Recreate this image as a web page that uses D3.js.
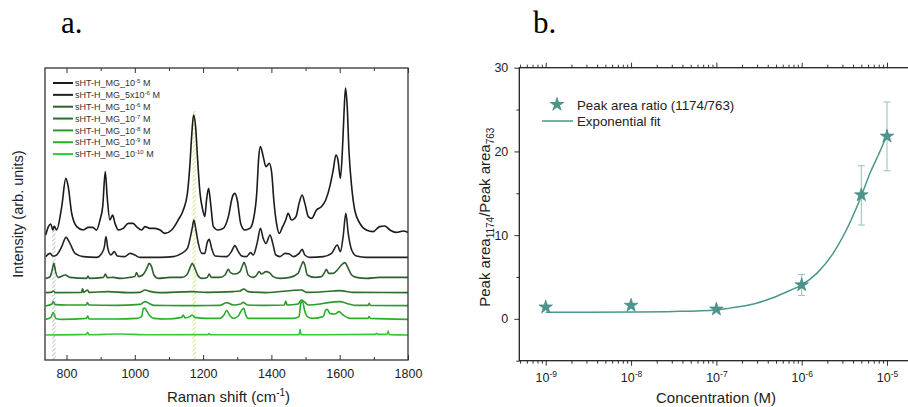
<!DOCTYPE html>
<html>
<head>
<meta charset="utf-8">
<script src="https://cdn.jsdelivr.net/npm/d3@7"></script>
<style>
  body { margin: 0; background: #fff; }
  svg { display: block; font-family: "Liberation Sans", Arial, sans-serif; }
</style>
</head>
<body>
<svg width="908" height="407"></svg>
<script>
// ---------- panel a : SERS spectra (x = Raman shift, y = arb. intensity incl. stacking offset)
const spec1 = [[739,62.5],[747,66.7],[754,68],[760,65],[764,67],[771,65],[786,76.7],[798,90.8],[805,86.7],[815,73.5],[830,66.7],[849,65],[864,66.3],[877,66.3],[888,65],[898,70],[906,76.7],[913.5,94.2],[919,81.7],[927,70],[935,72.5],[942,68.3],[952,65],[966,65.8],[981,68.3],[995,68.3],[1005,66.7],[1020,65],[1030,66.7],[1044,65.8],[1059,65.8],[1074,65],[1088,63.3],[1108,65],[1127,70],[1142,75],[1154,83.3],[1161,96.7],[1167,113.3],[1172,122.5],[1178,116.7],[1184,100],[1191,83.3],[1199,75],[1205,71.7],[1210,80],[1216,85.8],[1222,78.3],[1230,66.7],[1244,65],[1259,65.8],[1274,71.7],[1286,81.7],[1293,83.3],[1300,80],[1310,68.3],[1322,65],[1337,65.8],[1347,70],[1357,83.3],[1363,101.7],[1368,106.7],[1376,101.7],[1384,96.7],[1394,98.3],[1401,93.3],[1407,80],[1415,68.3],[1423,63.3],[1433,66.7],[1442,70],[1449,73.3],[1459,70],[1472,71.7],[1481,78.3],[1490,82.5],[1498,78.3],[1508,71.7],[1518,70.8],[1532,75],[1547,76.7],[1559,80],[1571,86.7],[1581,95],[1589,102.5],[1595,100],[1602,90.8],[1608,105],[1613,125],[1617,136],[1622,126.7],[1627,105],[1635,86.7],[1644,75],[1659,68.3],[1678,65],[1698,64.2],[1717,66.7],[1732,67],[1747,65],[1766,63.8],[1786,64.5],[1800,63.8]];
const spec2 = [[739,51.7],[752,53.3],[760,52],[769,52.3],[786,56.7],[798.5,61.3],[810,58.3],[825,53.3],[849,51.7],[888,51.3],[903,53.3],[911,56.7],[915.5,61.7],[921,55.8],[930,52.5],[940,54.2],[949,52],[971,51.7],[986,53.3],[1000,52.5],[1015,51.3],[1074,51.3],[1113,51.7],[1137,53.3],[1154,55.8],[1163,61.7],[1169,66.7],[1173,70],[1179,65],[1186,58.3],[1196,53.3],[1205,53.3],[1212,58.7],[1218,60.3],[1225,55.8],[1235,52],[1269,51.7],[1283,54.2],[1293,57.2],[1303,54.2],[1313,52],[1327,51.7],[1339,53.7],[1347,52.5],[1358,58.3],[1368,65.8],[1376,60.8],[1384,58.3],[1396,62.5],[1404,58.3],[1413,52.5],[1425,51.7],[1440,53.3],[1452,53],[1464,51.7],[1481,53.3],[1490,55.3],[1498,52.5],[1513,51.3],[1552,51.7],[1576,53.3],[1593,57.5],[1602,54.2],[1610,61.7],[1618,73.3],[1625,63.3],[1635,55],[1649,52],[1678,51.3],[1800,51.3]];
const spec3 = [[739,40.8],[752,41.7],[758,45],[763,48.3],[768,44.2],[776,41.3],[796,42.5],[810,41.3],[859,40.8],[863,42],[867,40.8],[908,41.3],[914,43],[919,41.2],[937,41.3],[957,40.8],[986,41.3],[1000,41.7],[1005,43.7],[1011,41.7],[1023,42.5],[1035,45.8],[1042,48.3],[1049,46.7],[1056,42.5],[1069,40.8],[1103,41.3],[1137,41.3],[1152,42.5],[1161,45.8],[1168,48.3],[1176,45.8],[1184,42.5],[1196,40.8],[1212,41.3],[1218,43],[1224,41.3],[1249,41.3],[1264,42.5],[1274,45.3],[1280,43.7],[1293,43],[1308,44.2],[1316,47.5],[1320,48.8],[1325,46.7],[1332,42.5],[1347,41.3],[1357,42.5],[1364,44.2],[1371,43],[1384,44.2],[1394,43.7],[1405,41.7],[1425,40.8],[1454,41.3],[1478,43.3],[1488,47.5],[1493,49.2],[1498,47.5],[1505,42.5],[1527,41.3],[1547,41.7],[1557,44.2],[1561,45.3],[1568,43.3],[1581,43.3],[1593,45],[1605,47.5],[1615,48.7],[1625,45.8],[1635,42.5],[1649,41.3],[1678,40.8],[1717,41.3],[1800,41.3]];
const spec4 = [[739,33.7],[755,33.8],[761,34.5],[767,33.7],[844,33.8],[847,35.7],[850,33.8],[862,35],[866,33.8],[922,34.2],[978,33.7],[1015,33.8],[1030,35],[1044,34.3],[1074,33.7],[1166,34.2],[1210,33.8],[1288,34.2],[1308,34.5],[1319,35.5],[1332,34.2],[1384,33.7],[1488,35],[1503,33.8],[1581,34.5],[1600,34.7],[1640,33.8],[1800,33.7]];
const spec5 = [[739,27],[757,28],[761,29.2],[767,27.7],[800,27.5],[858,27.5],[861,28.7],[866,27.5],[945,27.3],[1015,27.8],[1030,29.2],[1042,28.3],[1056,27.3],[1137,27.2],[1186,27.2],[1249,27.3],[1269,28.7],[1288,27.5],[1310,28],[1317,28.8],[1330,27.5],[1384,27.3],[1438,27.5],[1442,29.5],[1446,27.5],[1478,28],[1488,30],[1496,29.2],[1508,27.5],[1542,28],[1566,28.7],[1600,29.2],[1627,28],[1647,27.3],[1683,27.3],[1686,28.3],[1690,27.3],[1800,27.2]];
const spec6 = [[739,20.3],[754,21.3],[761,23.7],[769,20.8],[786,20.3],[858,20.8],[862,22],[866,20.5],[945,20.5],[1005,20.8],[1020,21.7],[1025,25.8],[1030,25.8],[1036,24.2],[1042,22.5],[1056,20.8],[1093,20.5],[1137,21.3],[1142,22.5],[1147,21],[1161,21.7],[1168,22.5],[1176,21.3],[1210,20.8],[1249,20.8],[1261,22.5],[1269,24.7],[1279,22],[1288,20.8],[1303,22],[1313,25],[1319,25.8],[1325,22.5],[1332,20.8],[1384,20.8],[1464,20.8],[1481,21.7],[1486,28.3],[1491,29.2],[1498,24.2],[1505,21.7],[1522,20.8],[1552,21.7],[1559,25],[1564,25.3],[1571,23.3],[1586,23],[1598,24.2],[1610,22.5],[1630,20.8],[1683,20.8],[1686,21.7],[1690,20.8],[1800,20.3]];
const spec7 = [[739,12.5],[858,12.8],[862,13.8],[866,12.6],[950,13],[1044,12.6],[1214,12.7],[1218,13.2],[1222,12.6],[1384,12.6],[1481,12.6],[1484,15.3],[1487,12.6],[1704,12.8],[1708,13.3],[1712,12.8],[1739,12.8],[1742,14.5],[1745,12.7],[1800,12.5]];
const spectra = [spec1, spec2, spec3, spec4, spec5, spec6, spec7];
const specColors = ["#1b1b1b", "#232323", "#2f5e2f", "#2a6e2a", "#2f9a2f", "#27b027", "#36c936"];
const concLabels = [["10", "-5"], ["5x10", "-6"], ["10", "-6"], ["10", "-7"], ["10", "-8"], ["10", "-9"], ["10", "-10"]];
const ramanTicks = [800, 1000, 1200, 1400, 1600, 1800];
const ramanMinor = [900, 1100, 1300, 1500, 1700];
const markedBands = [763, 1174];

// ---------- panel b : peak area ratio vs concentration
const concExp = [-9, -8, -7, -6, Math.log10(5e-6), -5];
const ratio = [1.4, 1.6, 1.15, 4.05, 14.8, 21.8];
const ratioLow = [1.2, 1.4, 1.0, 2.8, 11.2, 17.7];
const ratioHigh = [1.6, 1.8, 1.3, 5.3, 18.3, 25.9];
const fitExp = [-9, -8.5, -8, -7.5, -7, -6.86, -6.72, -6.53, -6.33, -6.14, -6, -5.82, -5.63, -5.43, -5.3, -5.2, -5.1, -5];
const fitY = [0.8, 0.8, 0.82, 0.88, 1.07, 1.25, 1.47, 1.87, 2.55, 3.38, 4.06, 5.46, 7.85, 11.6, 14.7, 17.4, 19.6, 22.0];
const ratioTicks = [0, 10, 20, 30];
const ratioMinor = [-5, 5, 15, 25];
const decadeTicks = [-9, -8, -7, -6, -5];

const svg = d3.select("svg");
const teal = "#4a968a";

// ================= panel a
const ax = { l: 45, r: 408, t: 68, b: 360 };
const xa = d3.scaleLinear().domain([737, 1800]).range([ax.l, ax.r]);
const ya = d3.scaleLinear().domain([0, 146]).range([ax.b, ax.t]);

svg.append("text").attr("x", 61).attr("y", 33)
  .style("font-family", "'Liberation Serif', serif").style("font-size", "31px").text("a.");

svg.append("clipPath").attr("id", "clipA").append("rect")
  .attr("x", ax.l).attr("y", ax.t).attr("width", ax.r - ax.l).attr("height", ax.b - ax.t);

const defs = svg.append("defs");
function hatch(id, color) {
  const p = defs.append("pattern").attr("id", id).attr("patternUnits", "userSpaceOnUse")
    .attr("width", 3).attr("height", 3).attr("patternTransform", "rotate(45)");
  p.append("line").attr("x1", 0).attr("y1", 0).attr("x2", 0).attr("y2", 3)
    .attr("stroke", color).attr("stroke-width", 1.6);
}
hatch("hatchGrey", "#b5b5b5");
hatch("hatchYellow", "#c9e36a");

const gA = svg.append("g").attr("clip-path", "url(#clipA)");

// hatched bands: from the top spectrum at the band position down to the bottom
const bandFill = ["url(#hatchGrey)", "url(#hatchYellow)"];
const bandTopPad = [-1, 2];
markedBands.forEach(function (c, i) {
  const near = spec1.filter(p => Math.abs(p[0] - c) < 6);
  const top = d3.max(near, p => p[1]) + bandTopPad[i];
  gA.append("rect")
    .attr("x", xa(c - 5))
    .attr("y", ya(top))
    .attr("width", xa(c + 5) - xa(c - 5))
    .attr("height", ya(0) - ya(top))
    .attr("fill", bandFill[i]);
});

const lineA = d3.line().x(d => xa(d[0])).y(d => ya(d[1])).curve(d3.curveMonotoneX);
gA.selectAll("path.spec")
  .data(spectra)
  .enter()
  .append("path")
  .attr("class", "spec")
  .attr("d", lineA)
  .attr("fill", "none")
  .attr("stroke", (d, i) => specColors[i])
  .attr("stroke-width", 1.6)
  .attr("stroke-linejoin", "round");

// axes of panel a (ticks inside)
svg.append("g").attr("transform", "translate(0," + ax.b + ")")
  .call(d3.axisBottom(xa).tickValues(ramanTicks).tickFormat(d3.format("d"))
    .tickSizeInner(-5).tickSizeOuter(0).tickPadding(9))
  .call(g => g.select(".domain").remove())
  .call(g => g.selectAll("text").style("font-size", "12.5px").attr("fill", "#222"));
svg.append("g").attr("transform", "translate(0," + ax.b + ")")
  .call(d3.axisBottom(xa).tickValues(ramanMinor).tickSizeInner(-3).tickSizeOuter(0).tickFormat(""))
  .call(g => g.select(".domain").remove());
svg.append("g").attr("transform", "translate(0," + ax.t + ")")
  .call(d3.axisTop(xa).tickValues(ramanTicks).tickSizeInner(-5).tickSizeOuter(0).tickFormat(""))
  .call(g => g.select(".domain").remove());
svg.append("g").attr("transform", "translate(0," + ax.t + ")")
  .call(d3.axisTop(xa).tickValues(ramanMinor).tickSizeInner(-3).tickSizeOuter(0).tickFormat(""))
  .call(g => g.select(".domain").remove());
svg.selectAll(".tick line").attr("stroke", "#333");

svg.append("rect").attr("x", ax.l).attr("y", ax.t)
  .attr("width", ax.r - ax.l).attr("height", ax.b - ax.t)
  .attr("fill", "none").attr("stroke", "#333").attr("stroke-width", 1.3);

const xta = svg.append("text").attr("x", (ax.l + ax.r) / 2 + 2).attr("y", 402)
  .attr("text-anchor", "middle").style("font-size", "15px").attr("fill", "#222")
  .text("Raman shift (cm");
xta.append("tspan").attr("dy", -6).style("font-size", "10px").text("-1");
xta.append("tspan").attr("dy", 6).text(")");

svg.append("text")
  .attr("transform", "translate(23," + (ax.t + ax.b) / 2 + ") rotate(-90)")
  .attr("text-anchor", "middle").style("font-size", "14.5px").attr("fill", "#222")
  .text("Intensity (arb. units)");

// legend of panel a
const legA = svg.append("g").attr("transform", "translate(53,83)");
const legRow = legA.selectAll("g").data(concLabels).enter().append("g")
  .attr("transform", (d, i) => "translate(0," + i * 11.85 + ")");
legRow.append("line").attr("x1", 0).attr("x2", 20)
  .attr("stroke", (d, i) => specColors[i]).attr("stroke-width", 2);
const legText = legRow.append("text").attr("x", 22).attr("y", 3.2)
  .style("font-size", "9px").attr("fill", "#333");
legText.append("tspan").text(d => "sHT-H_MG_" + d[0]);
legText.append("tspan").attr("dy", -3).style("font-size", "6px").text(d => d[1]);
legText.append("tspan").attr("dy", 3).text(" M");

// ================= panel b
const bx = { l: 519.3, r: 912.6, t: 67.7, b: 360.7 };
const xb = d3.scaleLog().domain([Math.pow(10, -9.31), Math.pow(10, -4.7)]).range([bx.l, bx.r]);
const yb = d3.scaleLinear().domain([-5, 30]).range([bx.b, bx.t]);

svg.append("text").attr("x", 533).attr("y", 33)
  .style("font-family", "'Liberation Serif', serif").style("font-size", "31px").text("b.");

const majorB = decadeTicks.map(e => Math.pow(10, e));
const minorB = xb.ticks().filter(v => !majorB.some(m => Math.abs(v / m - 1) < 1e-6));

function supLabels(g) {
  g.selectAll(".tick text").each(function (d) {
    const t = d3.select(this).text("10");
    t.append("tspan").attr("dy", -5).style("font-size", "8.5px").text(Math.round(Math.log10(d)));
  });
}

svg.append("g").attr("transform", "translate(0," + bx.b + ")")
  .call(d3.axisBottom(xb).tickValues(majorB).tickSizeInner(5).tickSizeOuter(0).tickPadding(7))
  .call(g => g.select(".domain").remove())
  .call(g => g.selectAll("text").style("font-size", "12.5px").attr("fill", "#222"))
  .call(supLabels);
svg.append("g").attr("transform", "translate(0," + bx.b + ")")
  .call(d3.axisBottom(xb).tickValues(minorB).tickSizeInner(3).tickSizeOuter(0).tickFormat(""))
  .call(g => g.select(".domain").remove());
svg.append("g").attr("transform", "translate(0," + bx.t + ")")
  .call(d3.axisTop(xb).tickValues(majorB).tickSizeInner(5).tickSizeOuter(0).tickFormat(""))
  .call(g => g.select(".domain").remove());
svg.append("g").attr("transform", "translate(0," + bx.t + ")")
  .call(d3.axisTop(xb).tickValues(minorB).tickSizeInner(3).tickSizeOuter(0).tickFormat(""))
  .call(g => g.select(".domain").remove());
svg.append("g").attr("transform", "translate(" + bx.l + ",0)")
  .call(d3.axisLeft(yb).tickValues(ratioTicks).tickSizeInner(5).tickSizeOuter(0).tickPadding(6))
  .call(g => g.select(".domain").remove())
  .call(g => g.selectAll("text").style("font-size", "12.5px").attr("fill", "#222"));
svg.append("g").attr("transform", "translate(" + bx.l + ",0)")
  .call(d3.axisLeft(yb).tickValues(ratioMinor).tickSizeInner(3).tickSizeOuter(0).tickFormat(""))
  .call(g => g.select(".domain").remove());
svg.selectAll(".tick line").attr("stroke", "#333");

svg.append("rect").attr("x", bx.l).attr("y", bx.t)
  .attr("width", bx.r - bx.l).attr("height", bx.b - bx.t)
  .attr("fill", "none").attr("stroke", "#222").attr("stroke-width", 1.3);

// fit curve
const fitPts = fitExp.map((e, i) => [Math.pow(10, e), fitY[i]]);
svg.append("path").datum(fitPts)
  .attr("d", d3.line().x(d => xb(d[0])).y(d => yb(d[1])).curve(d3.curveMonotoneX))
  .attr("fill", "none").attr("stroke", teal).attr("stroke-width", 1.5);

// error bars
const pts = concExp.map((e, i) => ({ c: Math.pow(10, e), v: ratio[i], lo: ratioLow[i], hi: ratioHigh[i] }));
const eb = svg.append("g").attr("stroke", "#9cc7be").attr("stroke-width", 1.1);
pts.forEach(function (d) {
  const x = xb(d.c);
  eb.append("line").attr("x1", x).attr("x2", x).attr("y1", yb(d.lo)).attr("y2", yb(d.hi));
  eb.append("line").attr("x1", x - 3.5).attr("x2", x + 3.5).attr("y1", yb(d.lo)).attr("y2", yb(d.lo));
  eb.append("line").attr("x1", x - 3.5).attr("x2", x + 3.5).attr("y1", yb(d.hi)).attr("y2", yb(d.hi));
});

const star = d3.symbol().type(d3.symbolStar).size(58);
svg.selectAll("path.star").data(pts).enter().append("path")
  .attr("class", "star")
  .attr("d", star)
  .attr("transform", d => "translate(" + xb(d.c) + "," + yb(d.v) + ")")
  .attr("fill", teal).attr("stroke", "#3d857a").attr("stroke-width", 0.6);

// axis titles panel b
svg.append("text").attr("x", 716).attr("y", 403).attr("text-anchor", "middle")
  .style("font-size", "15px").attr("fill", "#222").text("Concentration (M)");

const ytb = svg.append("text")
  .attr("transform", "translate(490," + ((bx.t + bx.b) / 2 + 3) + ") rotate(-90)")
  .attr("text-anchor", "middle").style("font-size", "15px").attr("fill", "#222");
ytb.append("tspan").text("Peak area");
ytb.append("tspan").attr("dy", 4).style("font-size", "10px").text("1174");
ytb.append("tspan").attr("dy", -4).text("/Peak area");
ytb.append("tspan").attr("dy", 4).style("font-size", "10px").text("763");

// legend panel b
svg.append("path").attr("d", d3.symbol().type(d3.symbolStar).size(75))
  .attr("transform", "translate(557,104.5)").attr("fill", teal);
svg.append("text").attr("x", 577).attr("y", 109.5).style("font-size", "13.3px").attr("fill", "#222")
  .text("Peak area ratio (1174/763)");
svg.append("line").attr("x1", 542).attr("x2", 573).attr("y1", 121).attr("y2", 121)
  .attr("stroke", teal).attr("stroke-width", 1.5);
svg.append("text").attr("x", 577).attr("y", 126).style("font-size", "13.3px").attr("fill", "#222")
  .text("Exponential fit");
</script>
</body>
</html>
